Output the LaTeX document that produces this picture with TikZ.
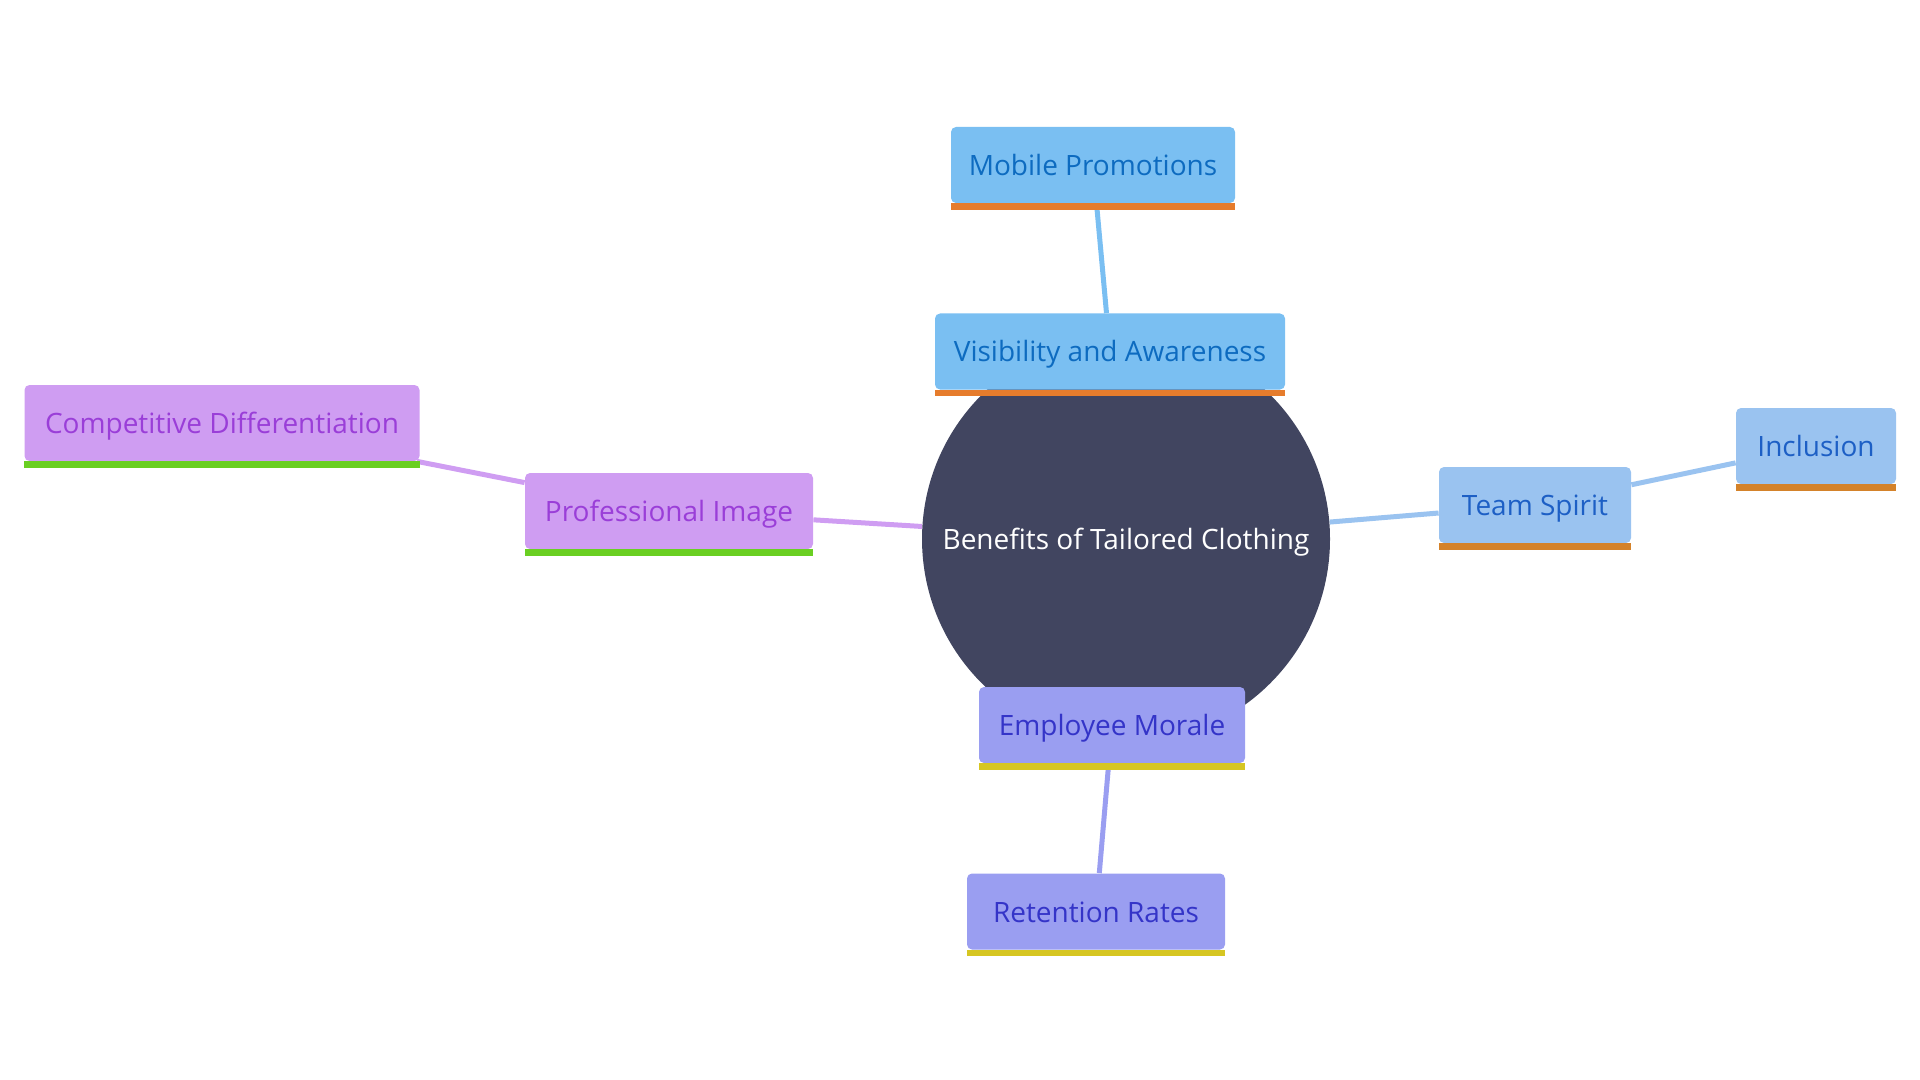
\documentclass[tikz,border=0pt]{standalone}
\usepackage{fontspec}
\setmainfont{Open Sans}
\usetikzlibrary{backgrounds}
\definecolor{cdark}{HTML}{414560}
\definecolor{visfill}{HTML}{7ABFF2}
\definecolor{vistext}{HTML}{0D6BC0}
\definecolor{visbar}{HTML}{E67C2C}
\definecolor{teamfill}{HTML}{9AC3F0}
\definecolor{teamtext}{HTML}{1D5FC5}
\definecolor{teambar}{HTML}{D4822A}
\definecolor{empfill}{HTML}{9A9EF1}
\definecolor{emptext}{HTML}{3434C8}
\definecolor{empbar}{HTML}{D6C622}
\definecolor{profill}{HTML}{CF9DF2}
\definecolor{protext}{HTML}{9A3ED8}
\definecolor{probar}{HTML}{6ACF22}
\tikzset{
  lbl/.style={font=\fontsize{14pt}{16pt}\selectfont, text height=12.5pt, text depth=2pt},
  box/.style={lbl, rectangle, rounded corners=2.5pt, minimum height=38pt, inner sep=0pt},
  visbox/.style={box, fill=visfill, text=vistext},
  teambox/.style={box, fill=teamfill, text=teamtext},
  empbox/.style={box, fill=empfill, text=emptext},
  probox/.style={box, fill=profill, text=protext},
  link/.style={line width=2.5pt},
}
\newcommand{\barunder}[2]{\fill[#2] (#1.south west) rectangle ([yshift=-3.2pt]#1.south east);}
\begin{document}
\begin{tikzpicture}[x=0.5pt,y=-0.5pt]
\useasboundingbox (0,0) rectangle (1920,1080);
\node[lbl, circle, fill=cdark, minimum size=204pt, inner sep=0pt, text=white] (root) at (1126,539) {Benefits of Tailored Clothing};
\node[visbox, minimum width=175pt] (vis) at (1110,351.5) {Visibility and Awareness};
\node[visbox, minimum width=142pt] (mob) at (1093,165) {Mobile Promotions};
\node[teambox, minimum width=96pt] (team) at (1535,505) {Team Spirit};
\node[teambox, minimum width=80pt] (inc) at (1816,446) {Inclusion};
\node[empbox, minimum width=133pt] (emp) at (1112,725) {Employee Morale};
\node[empbox, minimum width=129pt] (ret) at (1096,911.5) {Retention Rates};
\node[probox, minimum width=144pt] (pro) at (669,511) {Professional Image};
\node[probox, minimum width=197.5pt] (comp) at (222,423) {Competitive Differentiation};
\barunder{vis}{visbar}
\barunder{mob}{visbar}
\barunder{team}{teambar}
\barunder{inc}{teambar}
\barunder{emp}{empbar}
\barunder{ret}{empbar}
\barunder{pro}{probar}
\barunder{comp}{probar}
\begin{scope}[on background layer]
\draw[link, visfill] (root) -- (vis);
\draw[link, visfill] (vis) -- (mob);
\draw[link, teamfill] (root) -- (team);
\draw[link, teamfill] (team) -- (inc);
\draw[link, empfill] (root) -- (emp);
\draw[link, empfill] (emp) -- (ret);
\draw[link, profill] (root) -- (pro);
\draw[link, profill] (pro) -- (comp);
\end{scope}
\end{tikzpicture}
\end{document}
